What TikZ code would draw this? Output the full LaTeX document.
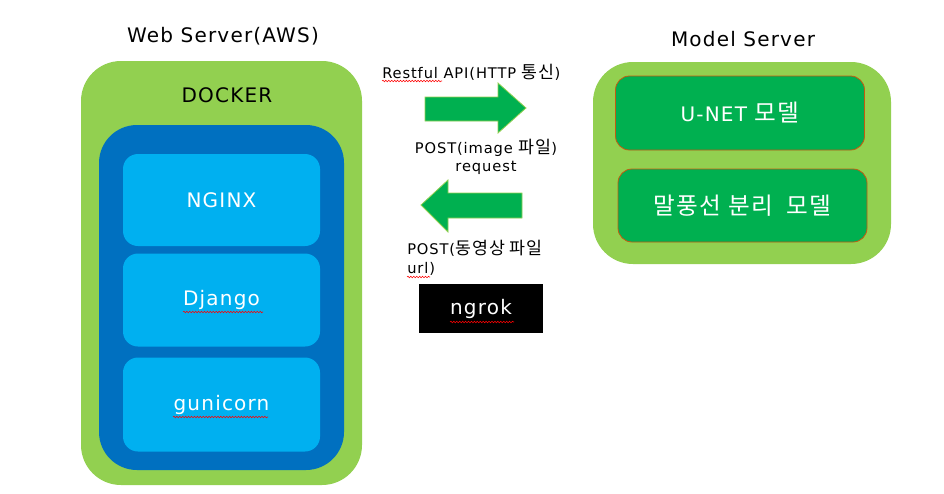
\documentclass[tikz,border=0pt]{standalone}
\usepackage{fontspec}
\setmainfont{DejaVu Sans}[LetterSpace=6]
\newfontfamily\kr{Noto Sans CJK KR}[Scale=1.18, LetterSpace=6]
\usetikzlibrary{decorations.pathmorphing}
\definecolor{lgreen}{HTML}{92D050}
\definecolor{dblue}{HTML}{0070C0}
\definecolor{lblue}{HTML}{00B0F0}
\definecolor{dgreen}{HTML}{00B050}
\definecolor{brown}{HTML}{C55A11}
\tikzset{
  outerbox/.style={fill=lgreen, draw=none, rounded corners=40*0.75pt},
  innerbox/.style={fill=dblue, draw=none, rounded corners=38*0.75pt},
  svcbox/.style={fill=lblue, draw=none, rounded corners=15*0.75pt, text=white, font=\fontsize{15}{18}\selectfont},
  modelbox/.style={fill=dgreen, draw=brown, line width=0.6pt, rounded corners=14*0.75pt, text=white, font=\fontsize{15}{18}\selectfont},
  title/.style={font=\fontsize{15}{18}\selectfont, text=black},
  lbl/.style={font=\fontsize{11}{14}\selectfont, text=black, align=center, inner sep=0pt},
  arrowshape/.style={fill=dgreen, draw=lgreen, line width=0.6pt},
  squig/.style={draw=red, line width=0.4pt, decorate, decoration={snake, amplitude=0.6pt, segment length=2.2pt}}
}
\begin{document}
\begin{tikzpicture}[x=0.75pt,y=-0.75pt]
\useasboundingbox (0,0) rectangle (944,493);
% Web server
\node[title] (websrv) at (223,36) {Web Server(AWS)};
\fill[outerbox] (81,61) rectangle (362,485);
\node[title] (docker) at (227,95) {DOCKER};
\fill[innerbox] (99,125) rectangle (344,470);
\node[svcbox, minimum width=197*0.75pt, minimum height=92*0.75pt] (nginx) at (221.5,200) {NGINX};
\node[svcbox, minimum width=197*0.75pt, minimum height=93*0.75pt] (django) at (221.5,300) {Django};
\node[svcbox, minimum width=197*0.75pt, minimum height=94*0.75pt] (gunicorn) at (221.5,404.5) {gunicorn};
\draw[squig] (183,312) -- (263,312);
\draw[squig] (173,417) -- (268,417);
% Model server
\node[title] (modelsrv) at (743,39) {Model Server};
\fill[outerbox] (593,62) rectangle (891,264);
\node[modelbox, minimum width=249*0.75pt, minimum height=74*0.75pt] (unet) at (740,113) {U-NET {\kr 모델}};
\node[modelbox, minimum width=249*0.75pt, minimum height=73*0.75pt] (balloon) at (742.5,205.5) {\kr 말풍선 분리\ \ 모델};
% arrows
\draw[arrowshape] (425,97) -- (498,97) -- (498,83) -- (526,108) -- (498,133) -- (498,121) -- (425,121) -- cycle;
\draw[arrowshape] (522,193) -- (448,193) -- (448,180) -- (421,205) -- (448,232) -- (448,218) -- (522,218) -- cycle;
% labels
\node[lbl, anchor=west] (rest) at (382,72) {Restful API(HTTP {\kr 통신})};
\draw[squig] (382,81) -- (442,81);
\node[lbl] (post1) at (486,157) {POST(image {\kr 파일})\\request};
\node[lbl, anchor=west, align=left] (post2) at (407,258) {POST({\kr 동영상 파일}\\url)};
\draw[squig] (407,277) -- (430,277);
\node[fill=black, text=white, minimum width=124*0.75pt, minimum height=49*0.75pt, inner sep=0pt, font=\fontsize{15}{18}\selectfont] (ngrok) at (481,308.5) {ngrok};
\draw[squig] (450,322) -- (514,322);
\end{tikzpicture}
\end{document}
